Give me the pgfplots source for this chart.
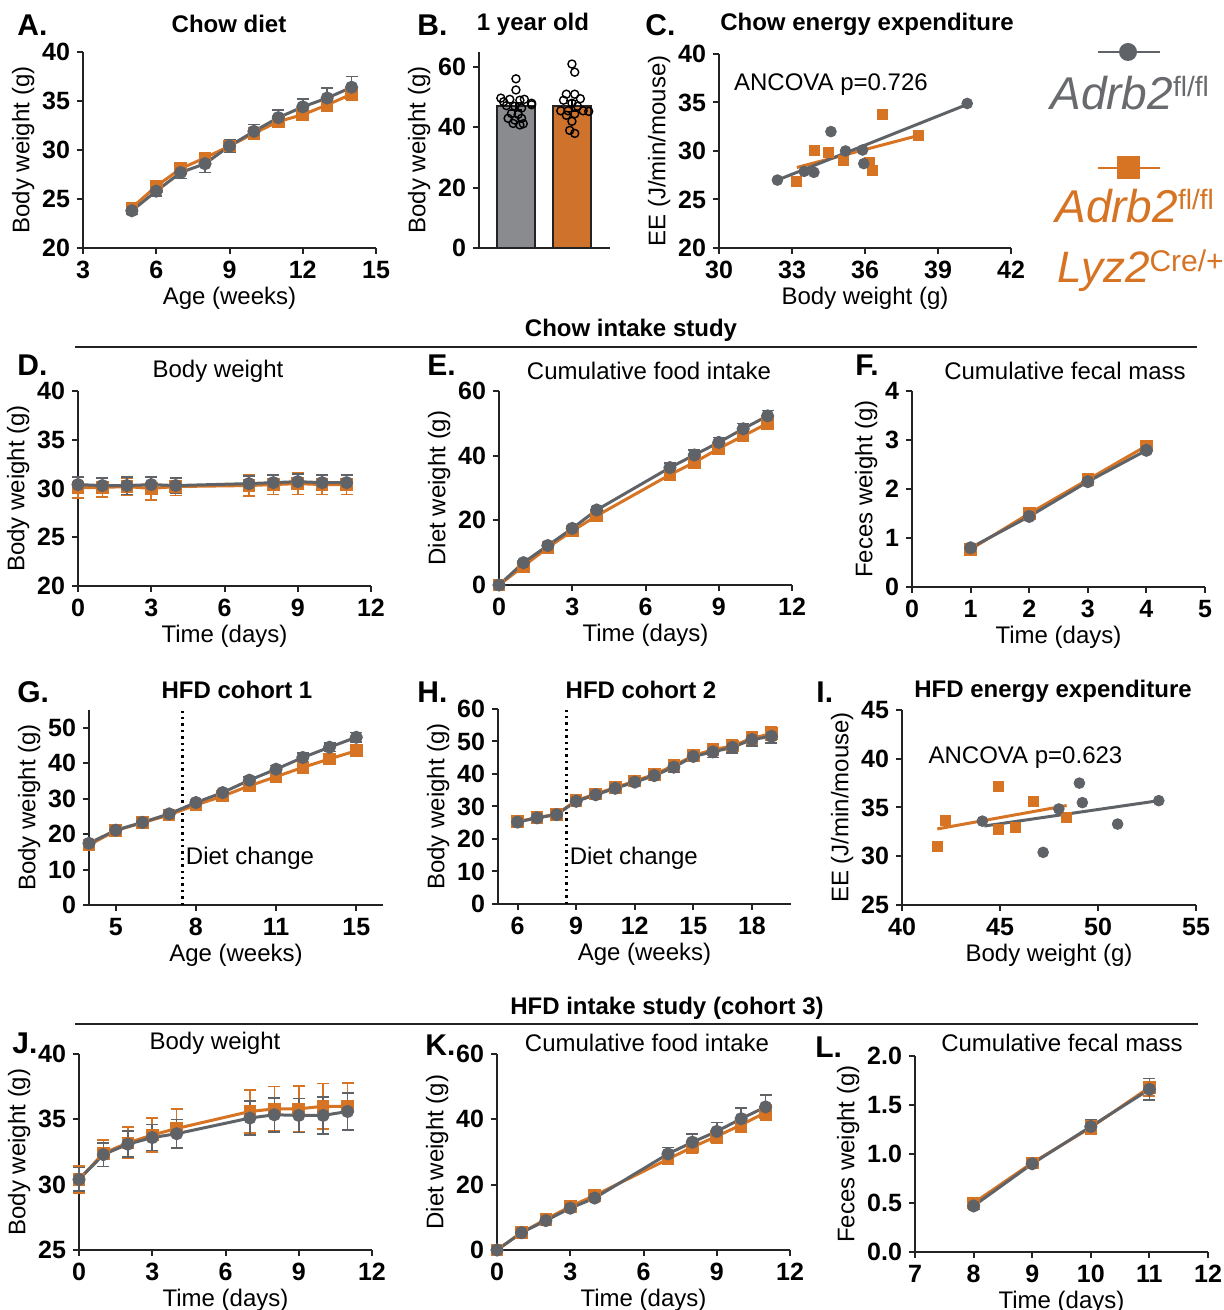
\documentclass[border=0pt]{standalone}
\usepackage{fontspec}
\setmainfont{Liberation Sans}
\usepackage{pgfplots}
\pgfplotsset{compat=1.18}

\definecolor{cgray}{RGB}{95,99,104}
\definecolor{corange}{RGB}{214,116,36}
\definecolor{bargray}{RGB}{138,139,143}
\definecolor{barorange}{RGB}{206,114,44}
\definecolor{axcol}{RGB}{35,35,35}
\definecolor{leggray}{RGB}{104,106,110}

\pgfplotsset{
  prism/.style={
    scale only axis, clip=false,
    axis lines=left, axis line style={-, line width=1pt, axcol},
    tick align=outside, major tick length=3pt,
    tick style={line width=1pt, axcol},
    ticklabel style={font=\bfseries\fontsize{12.5}{13}\selectfont},
    label style={font=\fontsize{12}{13}\selectfont},
    xlabel style={yshift=2.5pt}, ylabel style={yshift=-3pt},
    /pgf/number format/assume math mode=true,
    anchor=south west, width=146.5pt, height=98pt,
  },
  gl/.style={cgray, line width=1.5pt, mark=*, mark size=2.5pt, mark options={solid, fill=cgray},
    error bars/.cd, y dir=both, y explicit, error bar style={line width=0.8pt},
    error mark options={rotate=90, line width=0.8pt, mark size=3pt}},
  ol/.style={corange, line width=1.5pt, mark=square*, mark size=2.4pt, mark options={solid, fill=corange},
    error bars/.cd, y dir=both, y explicit, error bar style={line width=0.8pt},
    error mark options={rotate=90, line width=0.8pt, mark size=3pt}},
  gs/.style={only marks, mark=*, mark size=2.7pt, cgray},
  os/.style={only marks, mark=square*, mark size=2.5pt, corange},
}

\begin{document}
\begin{tikzpicture}
\path[use as bounding box] (0,0) rectangle (612pt,655pt);

% A. Chow diet
\begin{axis}[prism, at={(41.5pt,531pt)},
  xmin=3, xmax=15, xtick={3,6,...,15}, ymin=20, ymax=40, ytick={20,25,...,40},
  xlabel={Age (weeks)}, ylabel={Body weight (g)}]
\addplot[ol] coordinates {(5,24.1)+-(0,0.5) (6,26.3)+-(0,0.5) (7,28.1)+-(0,0.5) (8,29.2)+-(0,0.5) (9,30.4)+-(0,0.5)
  (10,31.7)+-(0,0.5) (11,32.9)+-(0,0.5) (12,33.6)+-(0,0.5) (13,34.6)+-(0,0.6) (14,35.7)+-(0,0.6)};
\addplot[gl] coordinates {(5,23.8)+-(0,0.4) (6,25.8)+-(0,0.5) (7,27.7)+-(0,0.6) (8,28.6)+-(0,0.9) (9,30.4)+-(0,0.6)
  (10,31.9)+-(0,0.7) (11,33.3)+-(0,0.8) (12,34.4)+-(0,0.8) (13,35.3)+-(0,1.0) (14,36.4)+-(0,1.1)};
\end{axis}

% B. 1 year old
\begin{axis}[prism, at={(239.5pt,531pt)}, width=65.5pt,
  xmin=0.34, xmax=2.68, xtick=\empty, ymin=0, ymax=65, ytick={0,20,40,60},
  ylabel={Body weight (g)}]
\addplot[ybar, bar width=0.68, bar shift=0pt, fill=bargray, draw=axcol, line width=0.8pt,
  error bars/.cd, y dir=both, y explicit, error bar style={line width=0.8pt, black},
  error mark options={rotate=90, line width=0.8pt, mark size=3pt, black}]
  coordinates {(1,47.0)+-(0,1.2)};
\addplot[ybar, bar width=0.68, bar shift=0pt, fill=barorange, draw=axcol, line width=0.8pt,
  error bars/.cd, y dir=both, y explicit, error bar style={line width=0.8pt, black},
  error mark options={rotate=90, line width=0.8pt, mark size=3pt, black}]
  coordinates {(2,47.1)+-(0,1.8)};
\addplot[only marks, mark=o, mark size=2pt, mark options={fill=white, draw=black, line width=0.7pt}]
  coordinates {(1.00,56.1) (1.00,52.4) (0.73,49.7) (0.89,49.3) (1.07,49.0) (1.28,48.0) (1.15,49.3)
  (0.83,47.2) (0.98,47.0) (1.10,46.4) (1.28,47.5) (0.92,44.6) (1.04,44.3) (0.86,43.0) (1.10,43.0)
  (0.98,42.4) (0.95,41.3) (1.07,40.8) (1.13,41.2) (0.78,48.5)};
\addplot[only marks, mark=o, mark size=2pt, mark options={fill=white, draw=black, line width=0.7pt}]
  coordinates {(2.00,61.0) (2.05,58.3) (1.90,51.0) (2.05,51.0) (1.85,49.0) (2.15,49.5) (2.00,48.0)
  (2.10,47.0) (1.80,45.5) (1.93,45.5) (2.20,45.5) (2.30,45.3) (1.90,44.0) (2.05,44.5) (2.00,42.0)
  (1.96,39.0) (2.05,38.0)};
\end{axis}

% C. Chow energy expenditure
\begin{axis}[prism, at={(359.5pt,531pt)}, width=146pt, height=97pt,
  xmin=30, xmax=42, xtick={30,33,...,42}, ymin=20, ymax=40, ytick={20,25,...,40},
  xlabel={Body weight (g)}, ylabel={EE (J/min/mouse)}]
\addplot[corange, line width=1.5pt] coordinates {(33.2,28.3) (38.2,31.6)};
\addplot[cgray, line width=1.5pt] coordinates {(32.4,27.0) (40.2,34.8)};
\addplot[os] coordinates {(33.2,26.9) (33.9,30.1) (34.5,29.9) (35.1,29.0) (36.2,28.8) (36.3,28.0) (36.7,33.8) (38.2,31.6)};
\addplot[gs] coordinates {(32.4,27.0) (33.5,27.9) (33.9,27.8) (34.6,32.0) (35.2,30.0) (35.9,30.1) (35.95,28.7) (40.2,34.9)};
\node[font=\fontsize{12}{13}\selectfont] at (axis cs:34.6,36.8) {ANCOVA p=0.726};
\end{axis}

% D. Body weight (chow intake)
\begin{axis}[prism, at={(39pt,362pt)}, height=97.5pt,
  xmin=0, xmax=12, xtick={0,3,...,12}, ymin=20, ymax=40, ytick={20,25,...,40},
  xlabel={Time (days)}, ylabel={Body weight (g)}]
\addplot[ol] coordinates {(0,30.1)+-(0,1.1) (1,30.1)+-(0,1.0) (2,30.2)+-(0,0.9) (3,30.0)+-(0,1.2) (4,30.2)+-(0,0.9)
  (7,30.3)+-(0,1.1) (8,30.4)+-(0,1.0) (9,30.5)+-(0,1.1) (10,30.4)+-(0,1.0) (11,30.4)+-(0,1.0)};
\addplot[gl] coordinates {(0,30.4)+-(0,0.8) (1,30.3)+-(0,0.8) (2,30.3)+-(0,0.9) (3,30.4)+-(0,0.8) (4,30.3)+-(0,0.8)
  (7,30.5)+-(0,0.8) (8,30.6)+-(0,0.8) (9,30.7)+-(0,0.8) (10,30.6)+-(0,0.8) (11,30.6)+-(0,0.8)};
\end{axis}

% E. Cumulative food intake (chow)
\begin{axis}[prism, at={(249.5pt,362.5pt)}, height=97pt,
  xmin=0, xmax=12, xtick={0,3,...,12}, ymin=0, ymax=60, ytick={0,20,40,60},
  xlabel={Time (days)}, ylabel={Diet weight (g)}]
\addplot[ol] coordinates {(0,0)+-(0,0) (1,5.8)+-(0,0.4) (2,11.6)+-(0,0.5) (3,16.7)+-(0,0.6) (4,21.4)+-(0,0.7)
  (7,34.1)+-(0,1.0) (8,37.9)+-(0,1.0) (9,42.2)+-(0,1.0) (10,46.1)+-(0,1.0) (11,50.0)+-(0,1.0)};
\addplot[gl] coordinates {(0,0)+-(0,0) (1,6.9)+-(0,0.5) (2,12.2)+-(0,0.6) (3,17.5)+-(0,0.7) (4,23.2)+-(0,0.9)
  (7,36.3)+-(0,1.4) (8,40.2)+-(0,1.5) (9,44.1)+-(0,1.5) (10,48.3)+-(0,1.6) (11,52.3)+-(0,1.7)};
\end{axis}

% F. Cumulative fecal mass (chow)
\begin{axis}[prism, at={(456pt,361.5pt)},
  xmin=0, xmax=5, xtick={0,...,5}, ymin=0, ymax=4, ytick={0,...,4},
  xlabel={Time (days)}, ylabel={Feces weight (g)}]
\addplot[ol] coordinates {(1,0.77)+-(0,0.03) (2,1.50)+-(0,0.03) (3,2.19)+-(0,0.04) (4,2.88)+-(0,0.05)};
\addplot[gl] coordinates {(1,0.80)+-(0,0.03) (2,1.44)+-(0,0.04) (3,2.15)+-(0,0.04) (4,2.79)+-(0,0.05)};
\end{axis}

% G. HFD cohort 1
\begin{axis}[prism, at={(44.5pt,202.5pt)}, width=147pt, height=97.5pt,
  xmin=4, xmax=15, xtick={5,8,11,14}, xticklabels={5,8,11,15},
  ymin=0, ymax=55, ytick={0,10,...,50},
  xlabel={Age (weeks)}, ylabel={Body weight (g)}]
\addplot[black, dotted, line width=1.2pt, forget plot] coordinates {(7.5,0) (7.5,55)};
\addplot[ol] coordinates {(4,16.9)+-(0,0.5) (5,21.0)+-(0,0.5) (6,23.2)+-(0,0.5) (7,25.4)+-(0,0.5) (8,28.2)+-(0,0.6)
  (9,30.7)+-(0,0.6) (10,33.6)+-(0,0.7) (11,36.2)+-(0,0.7) (12,38.8)+-(0,0.8) (13,41.2)+-(0,0.8) (14,43.5)+-(0,0.9)};
\addplot[gl] coordinates {(4,17.4)+-(0,0.5) (5,21.1)+-(0,0.5) (6,23.3)+-(0,0.5) (7,25.7)+-(0,0.6) (8,28.9)+-(0,0.7)
  (9,31.7)+-(0,0.8) (10,35.2)+-(0,0.9) (11,38.3)+-(0,1.0) (12,41.6)+-(0,1.2) (13,44.5)+-(0,1.2) (14,47.3)+-(0,1.4)};
\node[anchor=west, inner sep=1.5pt, font=\fontsize{12}{13}\selectfont] at (axis cs:7.5,13.2) {Diet change};
\end{axis}

% H. HFD cohort 2
\begin{axis}[prism, at={(249pt,203pt)}, height=97.5pt,
  xmin=5, xmax=20, xtick={6,9,...,18}, ymin=0, ymax=60, ytick={0,10,...,60},
  xlabel={Age (weeks)}, ylabel={Body weight (g)}]
\addplot[black, dotted, line width=1.2pt, forget plot] coordinates {(8.5,0) (8.5,60)};
\addplot[ol] coordinates {(6,25.3)+-(0,0.8) (7,26.6)+-(0,0.8) (8,27.6)+-(0,0.8) (9,31.8)+-(0,1.0) (10,33.9)+-(0,1.1)
  (11,35.8)+-(0,1.2) (12,37.8)+-(0,1.3) (13,39.9)+-(0,1.4) (14,42.6)+-(0,1.5) (15,45.6)+-(0,1.6)
  (16,47.5)+-(0,1.7) (17,48.6)+-(0,1.8) (18,51.0)+-(0,1.9) (19,52.4)+-(0,2.0)};
\addplot[gl] coordinates {(6,25.2)+-(0,0.7) (7,26.5)+-(0,0.7) (8,27.5)+-(0,0.7) (9,31.6)+-(0,0.9) (10,33.6)+-(0,1.0)
  (11,35.6)+-(0,1.1) (12,37.5)+-(0,1.2) (13,39.5)+-(0,1.3) (14,42.1)+-(0,1.5) (15,45.4)+-(0,1.6)
  (16,46.8)+-(0,1.7) (17,48.2)+-(0,1.8) (18,50.6)+-(0,1.9) (19,51.6)+-(0,2.0)};
\node[anchor=west, inner sep=1.5pt, font=\fontsize{12}{13}\selectfont] at (axis cs:8.5,14.2) {Diet change};
\end{axis}

% I. HFD energy expenditure
\begin{axis}[prism, at={(451pt,202.5pt)}, width=147pt, height=97.5pt,
  xmin=40, xmax=55, xtick={40,45,50,55}, ymin=25, ymax=45, ytick={25,30,...,45},
  xlabel={Body weight (g)}, ylabel={EE (J/min/mouse)}]
\addplot[corange, line width=1.5pt] coordinates {(41.8,32.8) (48.4,35.2)};
\addplot[cgray, line width=1.5pt] coordinates {(44.2,33.1) (53.1,35.7)};
\addplot[os] coordinates {(41.8,31.05) (42.2,33.7) (44.9,37.2) (44.9,32.8) (45.8,33.0) (46.7,35.6) (48.4,34.0)};
\addplot[gs] coordinates {(44.1,33.6) (48.0,34.85) (49.05,37.5) (49.2,35.5) (47.2,30.4) (51.0,33.3) (53.1,35.7)};
\node[font=\fontsize{12}{13}\selectfont] at (axis cs:46.3,40.1) {ANCOVA p=0.623};
\end{axis}

% J. Body weight (HFD intake)
\begin{axis}[prism, at={(39.5pt,30pt)},
  xmin=0, xmax=12, xtick={0,3,...,12}, ymin=25, ymax=40, ytick={25,30,35,40},
  xlabel={Time (days)}, ylabel={Body weight (g)}]
\addplot[ol] coordinates {(0,30.4)+-(0,1.05) (1,32.4)+-(0,1.0) (2,33.2)+-(0,1.2) (3,33.8)+-(0,1.3) (4,34.3)+-(0,1.5)
  (7,35.6)+-(0,1.65) (8,35.8)+-(0,1.7) (9,35.8)+-(0,1.75) (10,36.0)+-(0,1.75) (11,36.0)+-(0,1.8)};
\addplot[gl] coordinates {(0,30.4)+-(0,0.9) (1,32.3)+-(0,0.9) (2,33.1)+-(0,1.0) (3,33.6)+-(0,1.0) (4,33.9)+-(0,1.1)
  (7,35.1)+-(0,1.3) (8,35.35)+-(0,1.3) (9,35.3)+-(0,1.3) (10,35.3)+-(0,1.4) (11,35.6)+-(0,1.4)};
\end{axis}

% K. Cumulative food intake (HFD)
\begin{axis}[prism, at={(248.5pt,30pt)},
  xmin=0, xmax=12, xtick={0,3,...,12}, ymin=0, ymax=60, ytick={0,20,40,60},
  xlabel={Time (days)}, ylabel={Diet weight (g)}]
\addplot[ol] coordinates {(0,0)+-(0,0) (1,5.3)+-(0,0.4) (2,9.4)+-(0,0.6) (3,13.3)+-(0,0.8) (4,16.7)+-(0,0.9)
  (7,27.8)+-(0,1.5) (8,31.5)+-(0,1.8) (9,34.8)+-(0,2.0) (10,38.3)+-(0,2.2) (11,42.1)+-(0,2.3)};
\addplot[gl] coordinates {(0,0)+-(0,0) (1,5.3)+-(0,0.5) (2,9.0)+-(0,0.7) (3,12.8)+-(0,0.9) (4,15.9)+-(0,1.0)
  (7,29.4)+-(0,2.0) (8,33.0)+-(0,2.5) (9,36.3)+-(0,2.7) (10,40.2)+-(0,3.2) (11,43.8)+-(0,3.6)};
\end{axis}

% L. Cumulative fecal mass (HFD)
\begin{axis}[prism, at={(457.5pt,29pt)},
  xmin=7, xmax=12, xtick={7,...,12}, ymin=0, ymax=2, ytick={0,0.5,...,2},
  yticklabel style={/pgf/number format/.cd, fixed, fixed zerofill, precision=1},
  xlabel={Time (days)}, ylabel={Feces weight (g)}]
\addplot[ol] coordinates {(8,0.50)+-(0,0.03) (9,0.91)+-(0,0.04) (10,1.27)+-(0,0.07) (11,1.68)+-(0,0.09)};
\addplot[gl] coordinates {(8,0.47)+-(0,0.03) (9,0.90)+-(0,0.04) (10,1.28)+-(0,0.07) (11,1.66)+-(0,0.11)};
\end{axis}

% annotations in pixel units (origin top left)
\begin{scope}[shift={(0pt,655pt)}, x=0.5pt, y=-0.5pt]
  \tikzset{lett/.style={anchor=west, inner sep=0pt, font=\bfseries\fontsize{15}{16}\selectfont},
           ttl/.style={inner sep=0pt, font=\bfseries\fontsize{12}{13}\selectfont},
           sub/.style={inner sep=0pt, font=\fontsize{12}{13}\selectfont}}
  \node[lett] at (17,25) {A.};   \node[ttl] at (229,24) {Chow diet};
  \node[lett] at (417,25) {B.};  \node[ttl] at (533,24) {1 year old};
  \node[lett] at (645,25) {C.};  \node[ttl] at (867,24) {Chow energy expenditure};
  \node[ttl] at (631,330) {Chow intake study};
  \draw[line width=1pt, axcol] (75,347) -- (1197,347);
  \node[lett] at (17,365) {D.};  \node[sub] at (218,371) {Body weight};
  \node[lett] at (427,365) {E.}; \node[sub] at (649,371) {Cumulative food intake};
  \node[lett] at (855,365) {F.}; \node[sub] at (1065,371) {Cumulative fecal mass};
  \node[lett] at (17,692) {G.};  \node[ttl] at (237,690) {HFD cohort 1};
  \node[lett] at (417,692) {H.}; \node[ttl] at (641,690) {HFD cohort 2};
  \node[lett] at (816,692) {I.}; \node[ttl] at (1053,691) {HFD energy expenditure};
  \node[ttl] at (667,1008) {HFD intake study (cohort 3)};
  \draw[line width=1pt, axcol] (75,1024) -- (1198,1024);
  \node[lett] at (12,1043) {J.};  \node[sub] at (215,1043) {Body weight};
  \node[lett] at (425,1045) {K.}; \node[sub] at (647,1043) {Cumulative food intake};
  \node[lett] at (815,1047) {L.}; \node[sub] at (1062,1043) {Cumulative fecal mass};
  % legend
  \draw[cgray, line width=1.2pt] (1098,52) -- (1160,52);
  \fill[cgray] (1128,52) circle[radius=4.5pt];
  \node[anchor=base west, inner sep=0pt, leggray, font=\itshape\fontsize{23}{24}\selectfont] at (1050,110)
    {Adrb2\raisebox{6.5pt}{\upshape\fontsize{14}{15}\selectfont fl/fl}};
  \draw[corange, line width=1.2pt] (1098,168) -- (1160,168);
  \fill[corange] (1116.5,156.5) rectangle (1139.5,179.5);
  \node[anchor=base west, inner sep=0pt, corange, font=\itshape\fontsize{23}{24}\selectfont] at (1055,223)
    {Adrb2\raisebox{6.5pt}{\upshape\fontsize{14}{15}\selectfont fl/fl}};
  \node[anchor=base west, inner sep=0pt, corange, font=\itshape\fontsize{22}{24}\selectfont] at (1057,283)
    {Lyz2\raisebox{5.5pt}{\upshape\fontsize{15}{16}\selectfont Cre/+}};
\end{scope}
\end{tikzpicture}
\end{document}
